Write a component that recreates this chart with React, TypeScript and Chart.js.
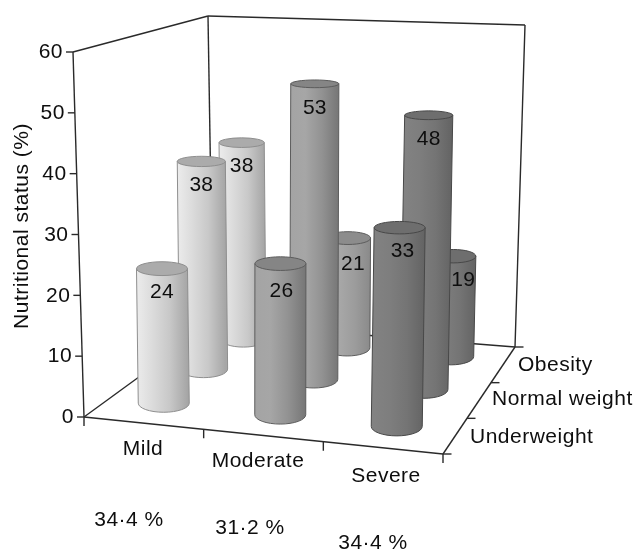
import React, { useEffect, useRef } from "react";
import { Chart, registerables } from "chart.js";

Chart.register(...registerables);

// ---- data ----
const severities = ["Mild", "Moderate", "Severe"];
const severityShares = ["34·4 %", "31·2 %", "34·4 %"];
const weightClasses = ["Underweight", "Normal weight", "Obesity"];
const mildValues = [24, 38, 38];
const moderateValues = [26, 53, 21];
const severeValues = [33, 48, 19];
const valueTicks = [0, 10, 20, 30, 40, 50, 60];
const axisTitle = "Nutritional status (%)";

const W = 637;
const H = 550;
const MAX = 60;
const FONT = '21px "Liberation Sans", Arial, sans-serif';
const INK = "#0e0e0e";
const FRAME = "#2a2a2a";

// ---- box projection (u: 0..3 along severity, d: 0..3 along weight class) ----
const floorFL = [84, 417], floorFR = [443, 454], floorBR = [515, 347], floorBL = [213, 323];
const topFL = [73, 52], topFR = [449, 76], topBR = [525, 25], topBL = [208, 16];
const lerp = (a: number, b: number, t: number) => a + (b - a) * t;
const bil = (fl: number[], fr: number[], br: number[], bl: number[], u: number, d: number, i: number) =>
  lerp(lerp(fl[i], fr[i], u / 3), lerp(bl[i], br[i], u / 3), d / 3);
const project = (u: number, d: number, v: number) => {
  const t = v / MAX;
  return {
    x: lerp(bil(floorFL, floorFR, floorBR, floorBL, u, d, 0), bil(topFL, topFR, topBR, topBL, u, d, 0), t),
    y: lerp(bil(floorFL, floorFR, floorBR, floorBL, u, d, 1), bil(topFL, topFR, topBR, topBL, u, d, 1), t),
  };
};
// bars sit slightly shorter in the picture than the wall scale suggests
const barUnit = (u: number, d: number) => lerp(lerp(5.59, 6.33, u / 3), lerp(5.05, 5.1, u / 3), d / 3);
const barLean = (u: number, d: number) => lerp(lerp(-0.12, 0.12, u / 3), lerp(-0.08, 0.16, u / 3), d / 3);
const barPoints = (u: number, d: number, v: number) => {
  const base = project(u, d, 0);
  const baseY = base.y - 4;
  const sag = 2 * (1 - (d - 1.5) * (d - 1.5));
  const topY = baseY - 2.5 * sag - barUnit(u, d) * v;
  return [
    { x: base.x, y: baseY - sag },
    { x: base.x + barLean(u, d) * v, y: topY },
  ];
};

const palettes = [
  { side: ["#ececec", "#dcdcdc", "#c8c8c8", "#a6a6a6"], cap: "#ababab", line: "#8e8e8e" },
  { side: ["#a4a4a4", "#a6a6a6", "#929292", "#767676"], cap: "#858585", line: "#5c5c5c" },
  { side: ["#828282", "#7e7e7e", "#747474", "#636363"], cap: "#6e6e6e", line: "#484848" },
];
const labelNudge: Record<string, number[]> = { "1,2": [5, 2], "2,2": [10, 0], "1,0": [1, 4], "2,0": [3, 0] };

const seriesValues = [mildValues, moderateValues, severeValues];

const lineSet = (a: { x: number; y: number }, b: { x: number; y: number }) => ({
  type: "scatter" as const,
  data: [a, b],
  showLine: true,
  borderColor: FRAME,
  borderWidth: 1.4,
  pointRadius: 0,
  order: 10,
});
const tickSet = (p: { x: number; y: number }, dx: number, dy: number) =>
  lineSet(p, { x: p.x + dx, y: p.y + dy });

const drawText = (ctx: CanvasRenderingContext2D, s: string, x: number, y: number, align: CanvasTextAlign = "center") => {
  ctx.textAlign = align;
  ctx.fillText(s, x, y);
};

const cylinderPlugin = {
  id: "cylinders",
  afterDatasetsDraw(chart: any) {
    const ctx: CanvasRenderingContext2D = chart.ctx;
    const xs = chart.scales.x;
    const ys = chart.scales.y;
    const ry = (y: number) => 3.8 + (y - 80) * 0.0165;
    ctx.save();
    ctx.font = FONT;
    (ctx as any).letterSpacing = "0.2px";
    ctx.textBaseline = "middle";
    for (let d = 2; d >= 0; d--) {
      for (let s = 0; s < 3; s++) {
        const ds = chart.data.datasets.find((e: any) => e.cyl && e.cyl[0] === s && e.cyl[1] === d);
        const [b, t] = ds.data;
        const bx = xs.getPixelForValue(b.x), by = ys.getPixelForValue(b.y);
        const tx = xs.getPixelForValue(t.x), ty = ys.getPixelForValue(t.y);
        const rx = 25.5 - d * 1.45;
        const p = palettes[s];
        const g = ctx.createLinearGradient(tx - rx, 0, tx + rx, 0);
        const stops = s === 1 && d === 2 ? ["#a8a8a8", "#a8a8a8", "#9c9c9c", "#8a8a8a"] : p.side;
        stops.forEach((c, i) => g.addColorStop([0, 0.3, 0.65, 1][i], c));
        ctx.beginPath();
        ctx.moveTo(tx - rx, ty);
        ctx.lineTo(bx - rx, by);
        ctx.ellipse(bx, by, rx, ry(by), 0, Math.PI, 0, true);
        ctx.lineTo(tx + rx, ty);
        ctx.closePath();
        ctx.fillStyle = g;
        ctx.fill();
        ctx.lineWidth = 1;
        ctx.strokeStyle = p.line;
        ctx.stroke();
        ctx.beginPath();
        ctx.ellipse(tx, ty, rx, ry(ty), 0, 0, Math.PI * 2);
        ctx.fillStyle = s === 1 && d === 2 ? "#8c8c8c" : p.cap;
        ctx.fill();
        ctx.stroke();
        const n = labelNudge[`${s},${d}`] || [0, 0];
        ctx.fillStyle = INK;
        drawText(ctx, String(seriesValues[s][d]), tx + n[0], ty + 24 + n[1]);
      }
    }
    ctx.restore();
  },
  afterDraw(chart: any) {
    const ctx: CanvasRenderingContext2D = chart.ctx;
    ctx.save();
    ctx.font = FONT;
    (ctx as any).letterSpacing = "0.5px";
    ctx.fillStyle = INK;
    ctx.textBaseline = "middle";
    valueTicks.forEach((v) => {
      const p = project(0, 0, v);
      drawText(ctx, String(v), p.x - 10, p.y + 0.5, "right");
    });
    const catAt = [[143, 449], [258, 461], [386, 476]];
    severities.forEach((s, i) => drawText(ctx, s, catAt[i][0], catAt[i][1]));
    const shareAt = [[129, 520], [250, 528], [373, 543]];
    severityShares.forEach((s, i) => drawText(ctx, s, shareAt[i][0], shareAt[i][1]));
    const weightAt = [[470, 437], [492, 399], [518, 365]];
    weightClasses.forEach((s, i) => drawText(ctx, s, weightAt[i][0], weightAt[i][1], "left"));
    ctx.translate(22, 226);
    ctx.rotate(-Math.PI / 2);
    drawText(ctx, axisTitle, 0, 0);
    ctx.restore();
  },
};

export default function App() {
  const ref = useRef<HTMLCanvasElement>(null);
  useEffect(() => {
    const frame = [
      lineSet(project(0, 0, 0), project(0, 0, MAX)),
      lineSet(project(0, 0, MAX), project(0, 3, MAX)),
      lineSet(project(0, 3, MAX), project(3, 3, MAX)),
      lineSet(project(3, 3, MAX), project(3, 3, 0)),
      lineSet(project(0, 3, MAX), project(0, 3, 0)),
      lineSet(project(0, 0, 0), project(0, 3, 0)),
      lineSet(project(0, 3, 0), project(3, 3, 0)),
      lineSet(project(0, 0, 0), project(3, 0, 0)),
      lineSet(project(3, 0, 0), project(3, 3, 0)),
    ];
    const ticks = [
      ...valueTicks.map((v) => tickSet(project(0, 0, v), -7, 0)),
      ...[0, 1, 2, 3].map((u) => tickSet(project(u, 0, 0), 0, 9)),
      ...[0, 1, 2, 3].map((d) => tickSet(project(3, d, 0), 8.5, 0)),
    ];
    const cylinders: any[] = [];
    seriesValues.forEach((vals, s) =>
      vals.forEach((v, d) => {
        cylinders.push({
          type: "scatter",
          label: `${severities[s]} ${weightClasses[d]}`,
          cyl: [s, d],
          data: barPoints(s + 0.5, d + 0.5, v),
          pointRadius: 0,
          showLine: false,
        });
      })
    );
    const chart = new Chart(ref.current!, {
      type: "scatter",
      data: { datasets: [...frame, ...ticks, ...cylinders] as any },
      options: {
        animation: false,
        responsive: false,
        layout: { padding: 0 },
        plugins: { legend: { display: false }, tooltip: { enabled: false }, title: { display: false } },
        scales: {
          x: { type: "linear", min: 0, max: W, display: false },
          y: { type: "linear", min: 0, max: H, reverse: true, display: false },
        },
      },
      plugins: [cylinderPlugin as any],
    });
    return () => chart.destroy();
  }, []);
  return (
    <canvas
      ref={ref}
      width={W}
      height={H}
      style={{ position: "fixed", left: 0, top: 0, display: "block", background: "#ffffff" }}
    />
  );
}
